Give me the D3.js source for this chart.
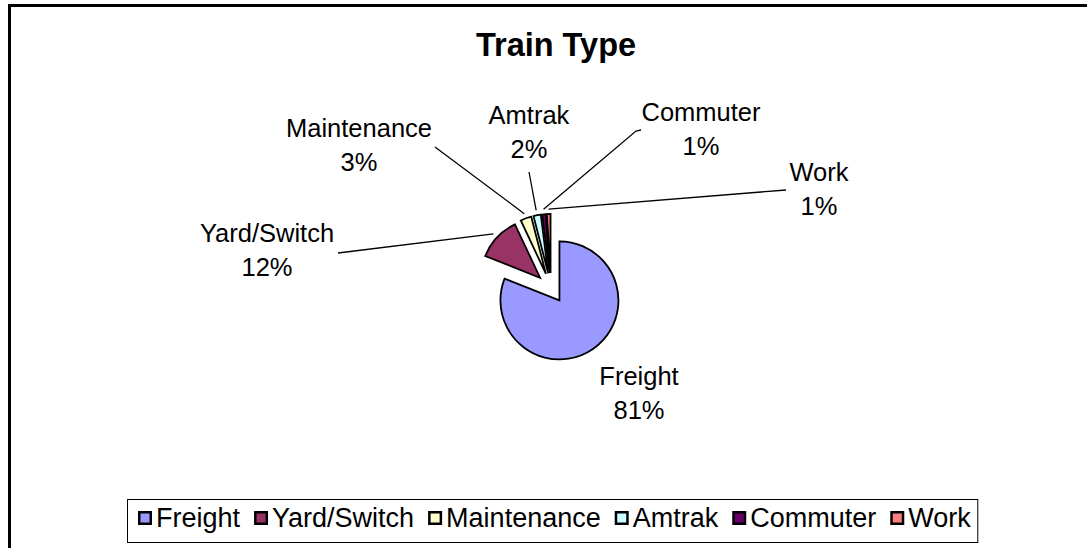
<!DOCTYPE html>
<html>
<head>
<meta charset="utf-8">
<script src="https://cdn.jsdelivr.net/npm/d3@7"></script>
<style>
  html, body { margin: 0; padding: 0; background: #fff; }
  svg { display: block; font-family: "Liberation Sans", Arial, sans-serif; }
</style>
</head>
<body>
<svg width="1087" height="548"></svg>
<script>
// values (percent of total)
let categories = ["Freight", "Yard/Switch", "Maintenance", "Amtrak", "Commuter", "Work"],
    values = [81, 12, 3, 2, 1, 1],
    colors = ["#9999ff", "#993366", "#ffffcc", "#ccffff", "#660066", "#ff8080"];

// label anchors (text centre x, first baseline y) and where each leader leaves the label
let labelX = [639, 267, 359, 529, 701, 819],
    labelY = [385, 242, 137, 124, 121, 181],
    leaderFrom = [null, [338, 253], [435, 147], [529, 172], [641, 130], [786, 190]];

let svg = d3.select("svg"),
    width = +svg.attr("width"),
    height = +svg.attr("height");

let cx = 551, cy = 288, radius = 59, explode = 15;

// outer frame (runs off the right and bottom edge)
svg.append("rect")
    .attr("x", 9.5).attr("y", 5.5)
    .attr("width", width + 20).attr("height", height + 20)
    .attr("fill", "#fff")
    .attr("stroke", "#000")
    .attr("stroke-width", 3);

svg.append("text")
    .attr("x", 556).attr("y", 56)
    .attr("text-anchor", "middle")
    .attr("font-size", 32.5)
    .attr("font-weight", "bold")
    .text("Train Type");

let pie = d3.pie().sort(null).value(d => d);
let arcs = pie(values);

let arc = d3.arc().innerRadius(0).outerRadius(radius);

function mid(d) { return (d.startAngle + d.endAngle) / 2; }
function offset(d) {
  let a = mid(d);
  return [explode * Math.sin(a), -explode * Math.cos(a)];
}

let g = svg.append("g").attr("transform", `translate(${cx},${cy})`);

g.selectAll("path.slice")
    .data(arcs)
  .enter().append("path")
    .attr("class", "slice")
    .attr("transform", d => `translate(${offset(d)})`)
    .attr("d", arc)
    .attr("fill", (d, i) => colors[i])
    .attr("stroke", "#000")
    .attr("stroke-width", 1.8)
    .attr("stroke-linejoin", "miter");

// leader lines
let leaders = svg.append("g")
    .attr("fill", "none")
    .attr("stroke", "#000")
    .attr("stroke-width", 1.3);

arcs.forEach(function(d, i) {
  if (!leaderFrom[i]) return;
  let o = offset(d), a = mid(d), r = radius + 5;
  let end = [cx + o[0] + r * Math.sin(a), cy + o[1] - r * Math.cos(a)];
  let pts = [leaderFrom[i]];
  if (categories[i] === "Commuter") pts.push([leaderFrom[i][0] - 5, leaderFrom[i][1] + 1]);
  pts.push(end);
  leaders.append("path").attr("d", d3.line()(pts));
});

// data labels
let labels = svg.append("g").attr("font-size", 25.5).attr("text-anchor", "middle");
arcs.forEach(function(d, i) {
  let t = labels.append("text").attr("x", labelX[i]).attr("y", labelY[i]);
  t.append("tspan").attr("x", labelX[i]).text(categories[i]);
  t.append("tspan").attr("x", labelX[i]).attr("dy", 33.5)
      .text(Math.round(d.value / d3.sum(values) * 100) + "%");
});

// legend
let legend = svg.append("g");
let box = legend.append("rect")
    .attr("fill", "#fff")
    .attr("stroke", "#000")
    .attr("stroke-width", 1);

let lx = 138, ly = 527, sw = 14;
categories.forEach(function(c, i) {
  legend.append("rect")
      .attr("x", lx + 1.25).attr("y", ly - 16 + 1.25)
      .attr("width", sw - 2.5).attr("height", sw - 2.5)
      .attr("fill", colors[i])
      .attr("stroke", "#000")
      .attr("stroke-width", 2.5);
  let t = legend.append("text")
      .attr("x", lx + sw + 4).attr("y", ly)
      .attr("font-size", 27)
      .text(c);
  lx += sw + 4 + t.node().getComputedTextLength() + 14;
});

box.attr("x", 127.5).attr("y", 499.5)
    .attr("width", lx - 127.5 - 7).attr("height", 43);
</script>
</body>
</html>
